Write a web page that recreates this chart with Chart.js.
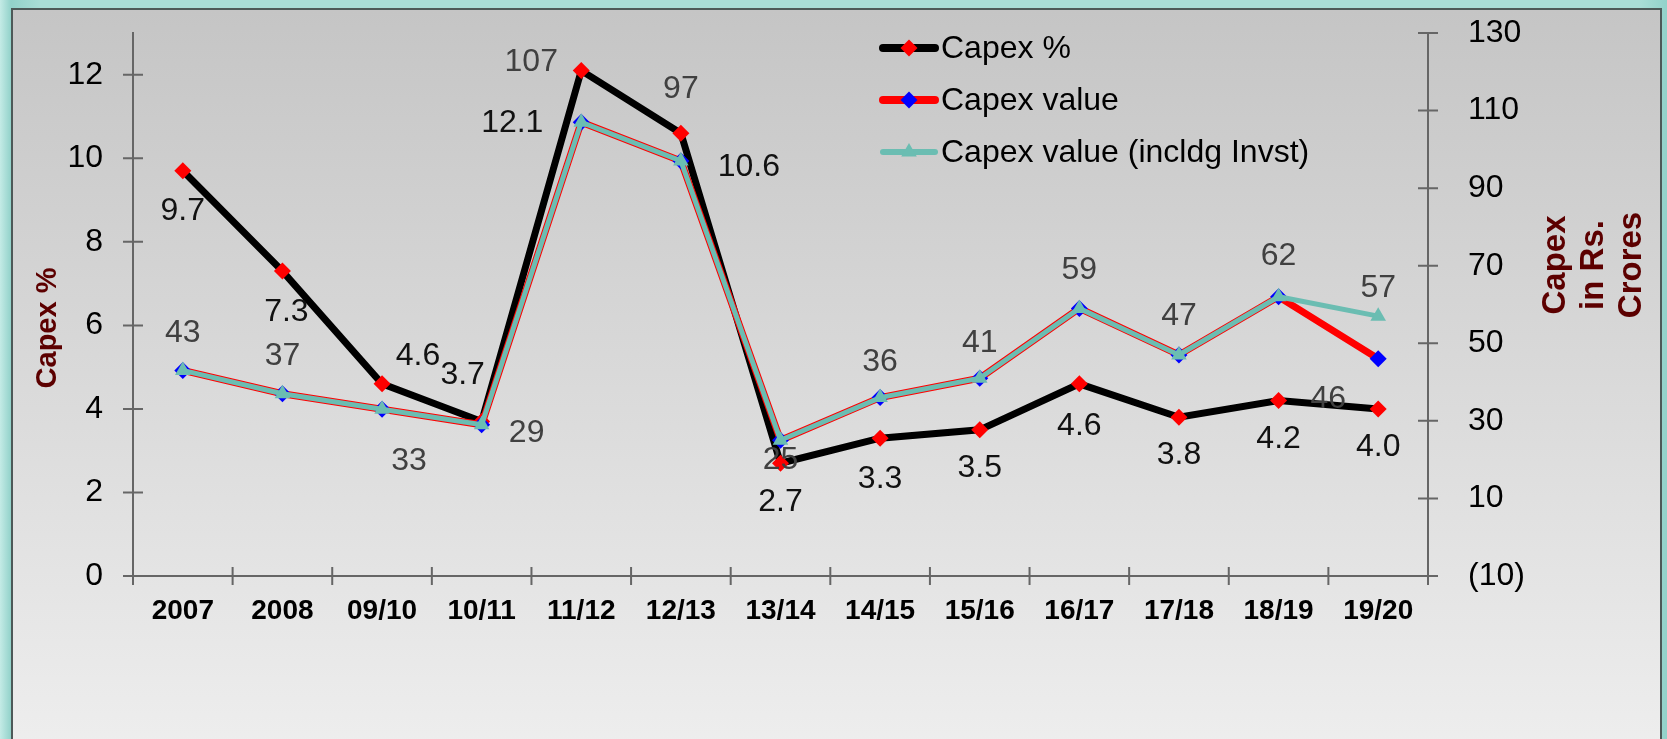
<!DOCTYPE html>
<html>
<head>
<meta charset="utf-8">
<title>Capex</title>
<script src="https://cdn.jsdelivr.net/npm/chart.js@4.4.1/dist/chart.umd.min.js"></script>
<style>
  html, body { margin: 0; padding: 0; width: 1667px; height: 739px; overflow: hidden; }
  body { background: linear-gradient(90deg, #c4ebe6 0px, #92d2ca 11px, #a9ddd6 40px, #a9ddd6 1640px, #92d2ca 1667px); }
  #frame {
    position: absolute; left: 11px; top: 8px; width: 1647px; height: 760px;
    border: 2px solid #4d5958;
    background: linear-gradient(#c5c5c5, #efefef);
  }
  #capex-chart { position: absolute; left: 0; top: 0; }
</style>
</head>
<body>
<div id="frame"></div>
<canvas id="capex-chart" width="1667" height="739"></canvas>
<script>
var years = ["2007", "2008", "09/10", "10/11", "11/12", "12/13", "13/14", "14/15", "15/16", "16/17", "17/18", "18/19", "19/20"];
var capexPct = [9.7, 7.3, 4.6, 3.7, 12.1, 10.6, 2.7, 3.3, 3.5, 4.6, 3.8, 4.2, 4.0];
var capexValue = [43, 37, 33, 29, 107, 97, 25, 36, 41, 59, 47, 62, 46];
var capexValueInvst = [43, 37, 33, 29, 107, 97, 25, 36, 41, 59, 47, 62, 57];

// where the value labels sit relative to their point (px)
var pctLabelPos = [[0, 40], [4, 41], [36, -28], [-19, -46], [-69, 53], [68, 34], [0, 39], [0, 41], [0, 38], [0, 42], [0, 38], [0, 39], [0, 38]];
var valueLabelPos = [[0, -37], [0, -38], [27, 52], [45, 8], [-50, -60], [0, -72], [0, 20], [0, -35], [0, -35], [0, -38], [0, -39], [0, -41], [-50, 40]];
var invstLabelPos = [null, null, null, null, null, null, null, null, null, null, null, null, [0, -28]];

var FONT = "'Liberation Sans', Arial, sans-serif";
var TITLE_COLOR = "#5c0000";

function fmtRight(v) {
  return v < 0 ? "(" + Math.abs(v) + ")" : "" + v;
}

function fixWidth(w) {
  return function (scale) {
    scale.width = w;
    scale.paddingTop = 0;
    scale.paddingBottom = 0;
  };
}

var valueLabels = {
  id: "valueLabels",
  afterDatasetsDraw: function (chart) {
    var ctx = chart.ctx;
    ctx.save();
    ctx.font = "32px " + FONT;
    ctx.textAlign = "center";
    ctx.textBaseline = "middle";
    chart.data.datasets.forEach(function (ds, i) {
      var meta = chart.getDatasetMeta(i);
      meta.data.forEach(function (pt, j) {
        var off = ds.labelPos[j];
        if (!off) return;
        ctx.fillStyle = ds.labelColor;
        ctx.fillText(ds.labelText(ds.data[j]), pt.x + off[0], pt.y + off[1]);
      });
    });
    ctx.restore();
  }
};

var crossTicks = {
  id: "crossTicks",
  afterDraw: function (chart) {
    var ctx = chart.ctx;
    var area = chart.chartArea;
    ctx.save();
    ctx.strokeStyle = "#666666";
    ctx.lineWidth = 2;
    ctx.beginPath();
    var n = years.length;
    for (var i = 0; i <= n; i++) {
      var x = area.left + i * (area.right - area.left) / n;
      ctx.moveTo(x, area.bottom - 9);
      ctx.lineTo(x, area.bottom + 9);
    }
    ["y", "y1"].forEach(function (id) {
      var sc = chart.scales[id];
      var ax = id === "y" ? area.left : area.right;
      sc.ticks.forEach(function (t) {
        var y = sc.getPixelForValue(t.value);
        ctx.moveTo(ax - 10, y);
        ctx.lineTo(ax + 10, y);
      });
    });
    ctx.stroke();

    // axis titles
    ctx.fillStyle = TITLE_COLOR;
    ctx.font = "bold 29px " + FONT;
    ctx.textAlign = "center";
    ctx.textBaseline = "middle";
    ctx.save();
    ctx.translate(48, 328);
    ctx.rotate(-Math.PI / 2);
    ctx.fillText("Capex %", 0, 0);
    ctx.restore();
    ctx.font = "bold 33px " + FONT;
    var rightTitle = ["Capex", "in Rs.", "Crores"];
    rightTitle.forEach(function (line, k) {
      ctx.save();
      ctx.translate(1556 + k * 38, 265);
      ctx.rotate(-Math.PI / 2);
      ctx.fillText(line, 0, 0);
      ctx.restore();
    });

    // legend
    ctx.font = "32px " + FONT;
    ctx.textAlign = "left";
    chart.data.datasets.forEach(function (ds, i) {
      var y = 48 + i * 52;
      ctx.strokeStyle = ds.borderColor;
      ctx.lineWidth = ds.legendWidth;
      ctx.lineCap = "round";
      ctx.beginPath();
      ctx.moveTo(883, y);
      ctx.lineTo(935, y);
      ctx.stroke();
      ctx.fillStyle = ds.pointBackgroundColor;
      ctx.beginPath();
      var r = ds.pointRadius;
      if (ds.pointStyle === "triangle") {
        ctx.moveTo(909, y - r);
        ctx.lineTo(909 + r * 0.866, y + r * 0.5);
        ctx.lineTo(909 - r * 0.866, y + r * 0.5);
      } else {
        ctx.moveTo(909, y - r);
        ctx.lineTo(909 + r, y);
        ctx.lineTo(909, y + r);
        ctx.lineTo(909 - r, y);
      }
      ctx.closePath();
      ctx.fill();
      ctx.fillStyle = "#000000";
      ctx.fillText(ds.label, 941, y + 1);
    });
    ctx.restore();
  }
};

var ctx = document.getElementById("capex-chart");

window.capexChart = new Chart(ctx, {
  type: "line",
  data: {
    labels: years,
    datasets: [
      {
        label: "Capex %",
        data: capexPct,
        yAxisID: "y",
        borderColor: "#000000",
        borderWidth: 7,
        legendWidth: 8,
        pointStyle: "rectRot",
        pointRadius: 8.5,
        pointBackgroundColor: "#ff0000",
        pointBorderWidth: 0,
        tension: 0,
        order: 3,
        labelPos: pctLabelPos,
        labelColor: "#111111",
        labelText: function (v) { return v.toFixed(1); }
      },
      {
        label: "Capex value",
        data: capexValue,
        yAxisID: "y1",
        borderColor: "#ff0000",
        borderWidth: 7,
        legendWidth: 8,
        pointStyle: "rectRot",
        pointRadius: 8.5,
        pointBackgroundColor: "#0000ff",
        pointBorderWidth: 0,
        tension: 0,
        order: 2,
        labelPos: valueLabelPos,
        labelColor: "#404040",
        labelText: function (v) { return "" + v; }
      },
      {
        label: "Capex value (incldg Invst)",
        data: capexValueInvst,
        yAxisID: "y1",
        borderColor: "#6bbdb2",
        borderWidth: 5,
        legendWidth: 6,
        pointStyle: "triangle",
        pointRadius: 9,
        pointBackgroundColor: "#6bbdb2",
        pointBorderWidth: 0,
        tension: 0,
        order: 1,
        labelPos: invstLabelPos,
        labelColor: "#404040",
        labelText: function (v) { return "" + v; }
      }
    ]
  },
  options: {
    responsive: false,
    animation: false,
    layout: { padding: { top: 33, left: 0, right: 0, bottom: 0 } },
    plugins: {
      legend: { display: false },
      tooltip: { enabled: false }
    },
    scales: {
      x: {
        offset: true,
        grid: { drawOnChartArea: false, drawTicks: false },
        border: { display: true, color: "#666666", width: 2 },
        ticks: {
          color: "#000000",
          font: { family: FONT, size: 28, weight: "bold" },
          padding: 18,
          maxRotation: 0,
          autoSkip: false
        },
        afterFit: function (scale) { scale.height = 163; }
      },
      y: {
        position: "left",
        min: 0,
        max: 13,
        grid: { drawOnChartArea: false, drawTicks: false },
        border: { display: true, color: "#666666", width: 2 },
        ticks: {
          stepSize: 2,
          includeBounds: false,
          color: "#000000",
          font: { family: FONT, size: 32 },
          padding: 30
        },
        afterFit: fixWidth(133)
      },
      y1: {
        position: "right",
        min: -10,
        max: 130,
        grid: { drawOnChartArea: false, drawTicks: false },
        border: { display: true, color: "#666666", width: 2 },
        ticks: {
          stepSize: 20,
          color: "#000000",
          font: { family: FONT, size: 32 },
          padding: 40,
          callback: fmtRight
        },
        afterFit: fixWidth(239)
      }
    }
  },
  plugins: [valueLabels, crossTicks]
});
</script>
</body>
</html>
